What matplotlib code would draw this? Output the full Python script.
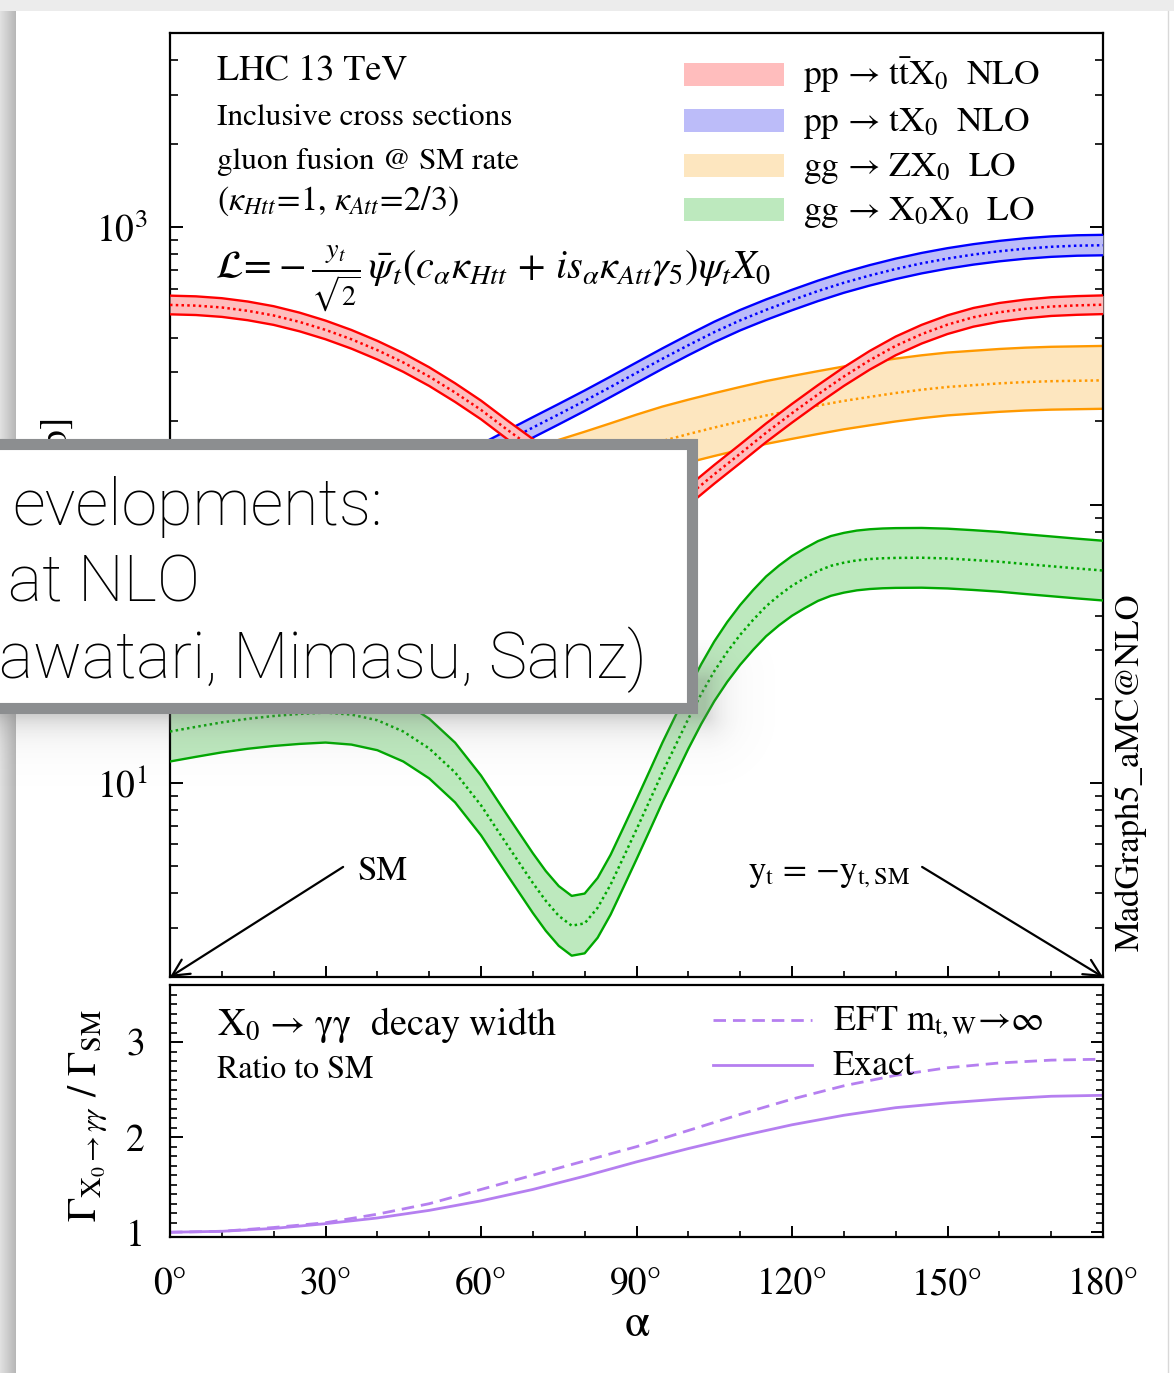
import numpy as np
import matplotlib
matplotlib.use("Agg")
import matplotlib.pyplot as plt
from matplotlib.patches import Rectangle
from matplotlib.ticker import (MultipleLocator, LogLocator, FixedLocator,
                               FuncFormatter, NullFormatter)

plt.rcParams["font.family"] = ["STIXGeneral", "Liberation Serif", "DejaVu Serif"]
plt.rcParams["mathtext.fontset"] = "stix"

W, H = 1174, 1373

# ---------------------------------------------------------------- data
# CP-mixing angle alpha [deg]
alpha_deg = np.arange(0, 181, 5)

# pp -> t tbar X0, NLO [fb]
xsec_ttx0 = [525, 522, 514, 500, 481, 456, 427, 395, 361, 326, 290, 254, 220, 187,
             160, 138, 121, 109, 102, 100, 108, 129, 153, 182, 214, 250, 290, 332,
             374, 412, 446, 474, 494, 508, 518, 523, 526]
unc_ttx0 = (0.08, 0.075)          # (up, down) scale uncertainty

# pp -> t X0, NLO [fb]
xsec_tx0 = [74, 75, 77, 80, 84, 89, 95, 102, 110, 119, 129, 140, 152, 170,
            190, 212, 237, 266, 299, 336, 376, 419, 462, 504, 546, 589, 631, 670,
            707, 741, 771, 797, 819, 837, 850, 858, 861]
unc_tx0 = (0.09, 0.08)

# gg -> Z X0, LO [fb]
xsec_zx0 = [63, 63, 64, 65, 67, 69, 72, 76, 81, 86, 93, 100, 106, 113,
            121, 129, 138, 148, 159, 170, 180, 190, 200, 210, 219, 228, 237, 245,
            253, 260, 266, 270, 274, 277, 279, 280, 281]
unc_zx0 = (0.33, 0.21)

# gg -> X0 X0, LO [fb]
alpha_x0x0 = [0, 5, 10, 15, 20, 25, 30, 35, 40, 45, 50, 55, 60, 65, 70,
              72.5, 75, 77.5, 80, 82.5, 85, 87.5, 90, 92.5, 95, 97.5, 100, 102.5, 105,
              107.5, 110, 112.5, 115, 117.5, 120, 122.5, 125, 127.5, 130, 132.5, 135,
              137.5, 140, 145, 150, 155, 160, 165, 170, 175, 180]
xsec_x0x0 = [15.3, 15.9, 16.5, 17.0, 17.4, 17.7, 17.9, 17.6, 16.8, 15.3, 13.3, 10.9, 8.3, 6.0, 4.36,
             3.76, 3.32, 3.06, 3.12, 3.55, 4.3, 5.4, 6.8, 8.6, 10.9, 13.6, 17.0, 20.9, 25.2,
             29.6, 34.1, 38.6, 43.2, 47.3, 51.2, 54.6, 57.9, 60.4, 62.0, 63.2, 63.9,
             64.3, 64.5, 64.6, 64.2, 63.4, 62.5, 61.3, 60.2, 59.1, 58.1]
unc_x0x0 = (0.28, 0.22)

# X0 -> gamma gamma width, ratio to SM
alpha_width = np.arange(0, 181, 10)
ratio_exact = [1.00, 1.01, 1.04, 1.09, 1.15, 1.23, 1.33, 1.45, 1.59, 1.74,
               1.88, 2.01, 2.13, 2.23, 2.31, 2.36, 2.40, 2.43, 2.44]
ratio_eft = [1.00, 1.01, 1.05, 1.10, 1.19, 1.30, 1.45, 1.60, 1.75, 1.90,
             2.07, 2.24, 2.40, 2.54, 2.65, 2.73, 2.78, 2.81, 2.82]

legend_labels = [r"pp → t$\bar{\rm t}$X$_0$  NLO",
                 r"pp → tX$_0$  NLO",
                 r"gg → ZX$_0$  LO",
                 r"gg → X$_0$X$_0$  LO"]

# decades carrying a printed label on the cross-section axis
labelled_decades = [1, 3]

# ---------------------------------------------------------------- styles
RED, RED_F = "#ff0000", "#ffbdbd"
BLUE, BLUE_F = "#0000ff", "#bcbcf9"
ORANGE, ORANGE_F = "#ff9900", "#fde6bf"
GREEN, GREEN_F = "#00a800", "#bde9be"
PURPLE = "#b57ff0"


def fx(x):
    return x / W


def fy(y):
    return 1.0 - y / H


fig = plt.figure(figsize=(W / 100, H / 100), dpi=100)
fig.patch.set_facecolor("white")

# page background (slide edge)
bg = fig.add_axes([0, 0, 1, 1], zorder=-5)
bg.axis("off")
bg.add_patch(Rectangle((0, 0), W, 11, color="#ececec", lw=0))
grad = np.linspace(0.88, 0.72, 16)[None, :, None] * np.ones((2, 16, 3))
bg.imshow(grad, extent=(0, 16, H, 11), aspect="auto", interpolation="bilinear")
bg.plot([1168, 1168], [11, H], color="#d8d8d8", lw=1)
bg.set_xlim(0, W)
bg.set_ylim(H, 0)

# ---------------------------------------------------------------- main panel
ax = fig.add_axes([fx(170), fy(977), fx(1103) - fx(170), fy(33) - fy(977)])
ax.set_yscale("log")
ax.set_xlim(0, 180)
ax.set_ylim(2, 5000)


def band(a, c, unc, line, fill, z):
    c = np.asarray(c, dtype=float)
    hi = c * (1 + unc[0])
    lo = c * (1 - unc[1])
    ax.fill_between(a, lo, hi, color=fill, lw=0, zorder=z)
    ax.plot(a, lo, color=line, lw=1.7, zorder=z + 0.1)
    ax.plot(a, hi, color=line, lw=1.7, zorder=z + 0.1)
    ax.plot(a, c, color=line, lw=1.8, ls=(0, (1.0, 1.3)), zorder=z + 0.1)


band(alpha_deg, xsec_zx0, unc_zx0, ORANGE, ORANGE_F, 2)
band(alpha_x0x0, xsec_x0x0, unc_x0x0, GREEN, GREEN_F, 2.5)
band(alpha_deg, xsec_tx0, unc_tx0, BLUE, BLUE_F, 3)
band(alpha_deg, xsec_ttx0, unc_ttx0, RED, RED_F, 3.5)


def decade_label(v, pos):
    e = int(round(np.log10(v)))
    return r"$10^{%d}$" % e if e in labelled_decades else ""


ax.xaxis.set_major_locator(MultipleLocator(30))
ax.xaxis.set_minor_locator(MultipleLocator(10))
ax.yaxis.set_major_locator(FixedLocator([10, 100, 1000]))
ax.yaxis.set_major_formatter(FuncFormatter(decade_label))
ax.yaxis.set_minor_locator(LogLocator(base=10, subs=np.arange(2, 10)))
ax.yaxis.set_minor_formatter(NullFormatter())
ax.tick_params(axis="x", which="both", direction="in", bottom=True, top=False,
               labelbottom=False)
ax.tick_params(axis="y", which="both", direction="in", left=True, right=True,
               labelsize=27, pad=16)
ax.tick_params(which="major", length=9.5, width=1.4)
ax.tick_params(which="minor", length=5.5, width=1.2)
ax.tick_params(axis="x", which="major", length=8)
ax.tick_params(axis="x", which="minor", length=4)
for s in ax.spines.values():
    s.set_linewidth(1.6)

arrow_kw = dict(arrowstyle="->", color="black", lw=1.6, mutation_scale=30,
                shrinkA=0, shrinkB=0)
ax.annotate("", xy=(0, 2), xytext=(33.4, 4.98), arrowprops=arrow_kw,
            annotation_clip=False, zorder=6)
ax.annotate("", xy=(180, 2), xytext=(145.1, 4.98), arrowprops=arrow_kw,
            annotation_clip=False, zorder=6)

# ---------------------------------------------------------------- ratio panel
ax2 = fig.add_axes([fx(170), fy(1237), fx(1103) - fx(170), fy(985) - fy(1237)])
ax2.set_xlim(0, 180)
ax2.set_ylim(0.95, 3.6)
ax2.plot(alpha_width, ratio_eft, color=PURPLE, lw=2.0, ls=(0, (4.5, 2.5)))
ax2.plot(alpha_width, ratio_exact, color=PURPLE, lw=2.0)
ax2.xaxis.set_major_locator(MultipleLocator(30))
ax2.xaxis.set_minor_locator(MultipleLocator(10))
ax2.xaxis.set_major_formatter(FuncFormatter(lambda v, p: "%d\u00b0" % int(round(v))))
ax2.yaxis.set_major_locator(MultipleLocator(1))
ax2.yaxis.set_minor_locator(MultipleLocator(0.1))
ax2.tick_params(axis="x", which="both", direction="in", bottom=True, top=False,
                labelsize=27, pad=22)
ax2.tick_params(axis="y", which="both", direction="in", left=True, right=True,
                labelsize=27, pad=18)
ax2.tick_params(which="major", length=9, width=1.4)
ax2.tick_params(which="minor", length=5, width=1.2)
ax2.tick_params(axis="x", which="major", length=8)
ax2.tick_params(axis="x", which="minor", length=4)
for s in ax2.spines.values():
    s.set_linewidth(1.6)

# ---------------------------------------------------------------- labels layer
lay = fig.add_axes([0, 0, 1, 1], zorder=5)
lay.axis("off")
lay.patch.set_alpha(0)

lay.text(217, 80, "LHC 13 TeV", fontsize=26, va="baseline")
lay.text(217, 125, "Inclusive cross sections", fontsize=22.5, va="baseline")
lay.text(217, 169, "gluon fusion @ SM rate", fontsize=22.5, va="baseline")
lay.text(217, 210, r"($\kappa_{Htt}\!=\!1$, $\kappa_{Att}\!=\!2/3$)",
         fontsize=24.5, va="baseline")
lay.text(215, 279,
         r"$\mathcal{L}\!=\!-\frac{y_t}{\sqrt{2}}\,\bar{\psi}_t(c_\alpha\kappa_{Htt}"
         r"\,+\,is_\alpha\kappa_{Att}\gamma_5)\psi_t X_0$",
         fontsize=29, va="baseline")

for i, (lab, fc) in enumerate(zip(legend_labels, [RED_F, BLUE_F, ORANGE_F, GREEN_F])):
    base = [85, 131, 176, 220][i]
    lay.add_patch(Rectangle((684, base - 22), 100, 23, facecolor=fc, lw=0))
    lay.text(803, base, lab, fontsize=25.5, va="baseline")

lay.text(357, 880, "SM", fontsize=25, va="baseline")
lay.text(748, 880, r"y$_{\rm t}$ = −y$_{\rm t,SM}$", fontsize=25, va="baseline")
lay.text(1131, 772, "MadGraph5_aMC@NLO", rotation=90, ha="center", va="center",
         fontsize=25)
lay.text(57, 460, "σ [fb]", rotation=90, ha="center", va="center", fontsize=27)

lay.text(217, 1035, r"X$_0$ → γγ  decay width", fontsize=27.5, va="baseline")
lay.text(217, 1078, "Ratio to SM", fontsize=23, va="baseline")
lay.plot([713, 812], [1020, 1020], color=PURPLE, lw=2.0, ls=(0, (4.5, 2.5)))
lay.plot([713, 812], [1065, 1065], color=PURPLE, lw=2.0)
lay.text(833, 1030, r"EFT m$_{\rm t,W}$→∞", fontsize=26, va="baseline")
lay.text(833, 1075, "Exact", fontsize=26, va="baseline")
lay.text(88, 1115, r"Γ$_{\mathrm{X}_0\rightarrow\gamma\gamma}$ / Γ$_{\mathrm{SM}}$",
         rotation=90, ha="center", va="center", fontsize=29)
lay.text(637, 1325, "α", ha="center", va="center", fontsize=33)
lay.set_xlim(0, W)
lay.set_ylim(H, 0)

# ---------------------------------------------------------------- callout box
top = fig.add_axes([0, 0, 1, 1], zorder=9)
top.axis("off")
top.patch.set_alpha(0)

xs = np.arange(0, 900) + 0.5
ys = np.arange(640, 820) + 0.5
gx, gy = np.meshgrid(xs, ys)
dx = np.clip(gx - 705, 0, None)
dy = np.clip(gy - 716, 0, None) + np.clip(680 - gy, 0, None)
d = np.hypot(dx, dy)
shade = np.zeros(gx.shape + (4,))
shade[..., :3] = 0.45
shade[..., 3] = 0.32 * np.exp(-d / 16.0)
top.imshow(shade, extent=(0, 900, 820, 640), aspect="auto", interpolation="bilinear")

top.add_patch(Rectangle((-30, 443.5), 721.5, 264.5, facecolor="white",
                        edgecolor="#8c8e90", lw=8))
sans = ["Roboto", "Liberation Sans", "DejaVu Sans"]
box_kw = dict(va="baseline", fontsize=46.5, family=sans, fontweight="light")
top.text(383, 525, "evelopments:", ha="right", **box_kw)
top.text(200, 602, "at NLO", ha="right", **box_kw)
top.text(647, 678, "awatari, Mimasu, Sanz)", ha="right", **box_kw)
top.set_xlim(0, W)
top.set_ylim(H, 0)

fig.savefig("out.png", dpi=100)
